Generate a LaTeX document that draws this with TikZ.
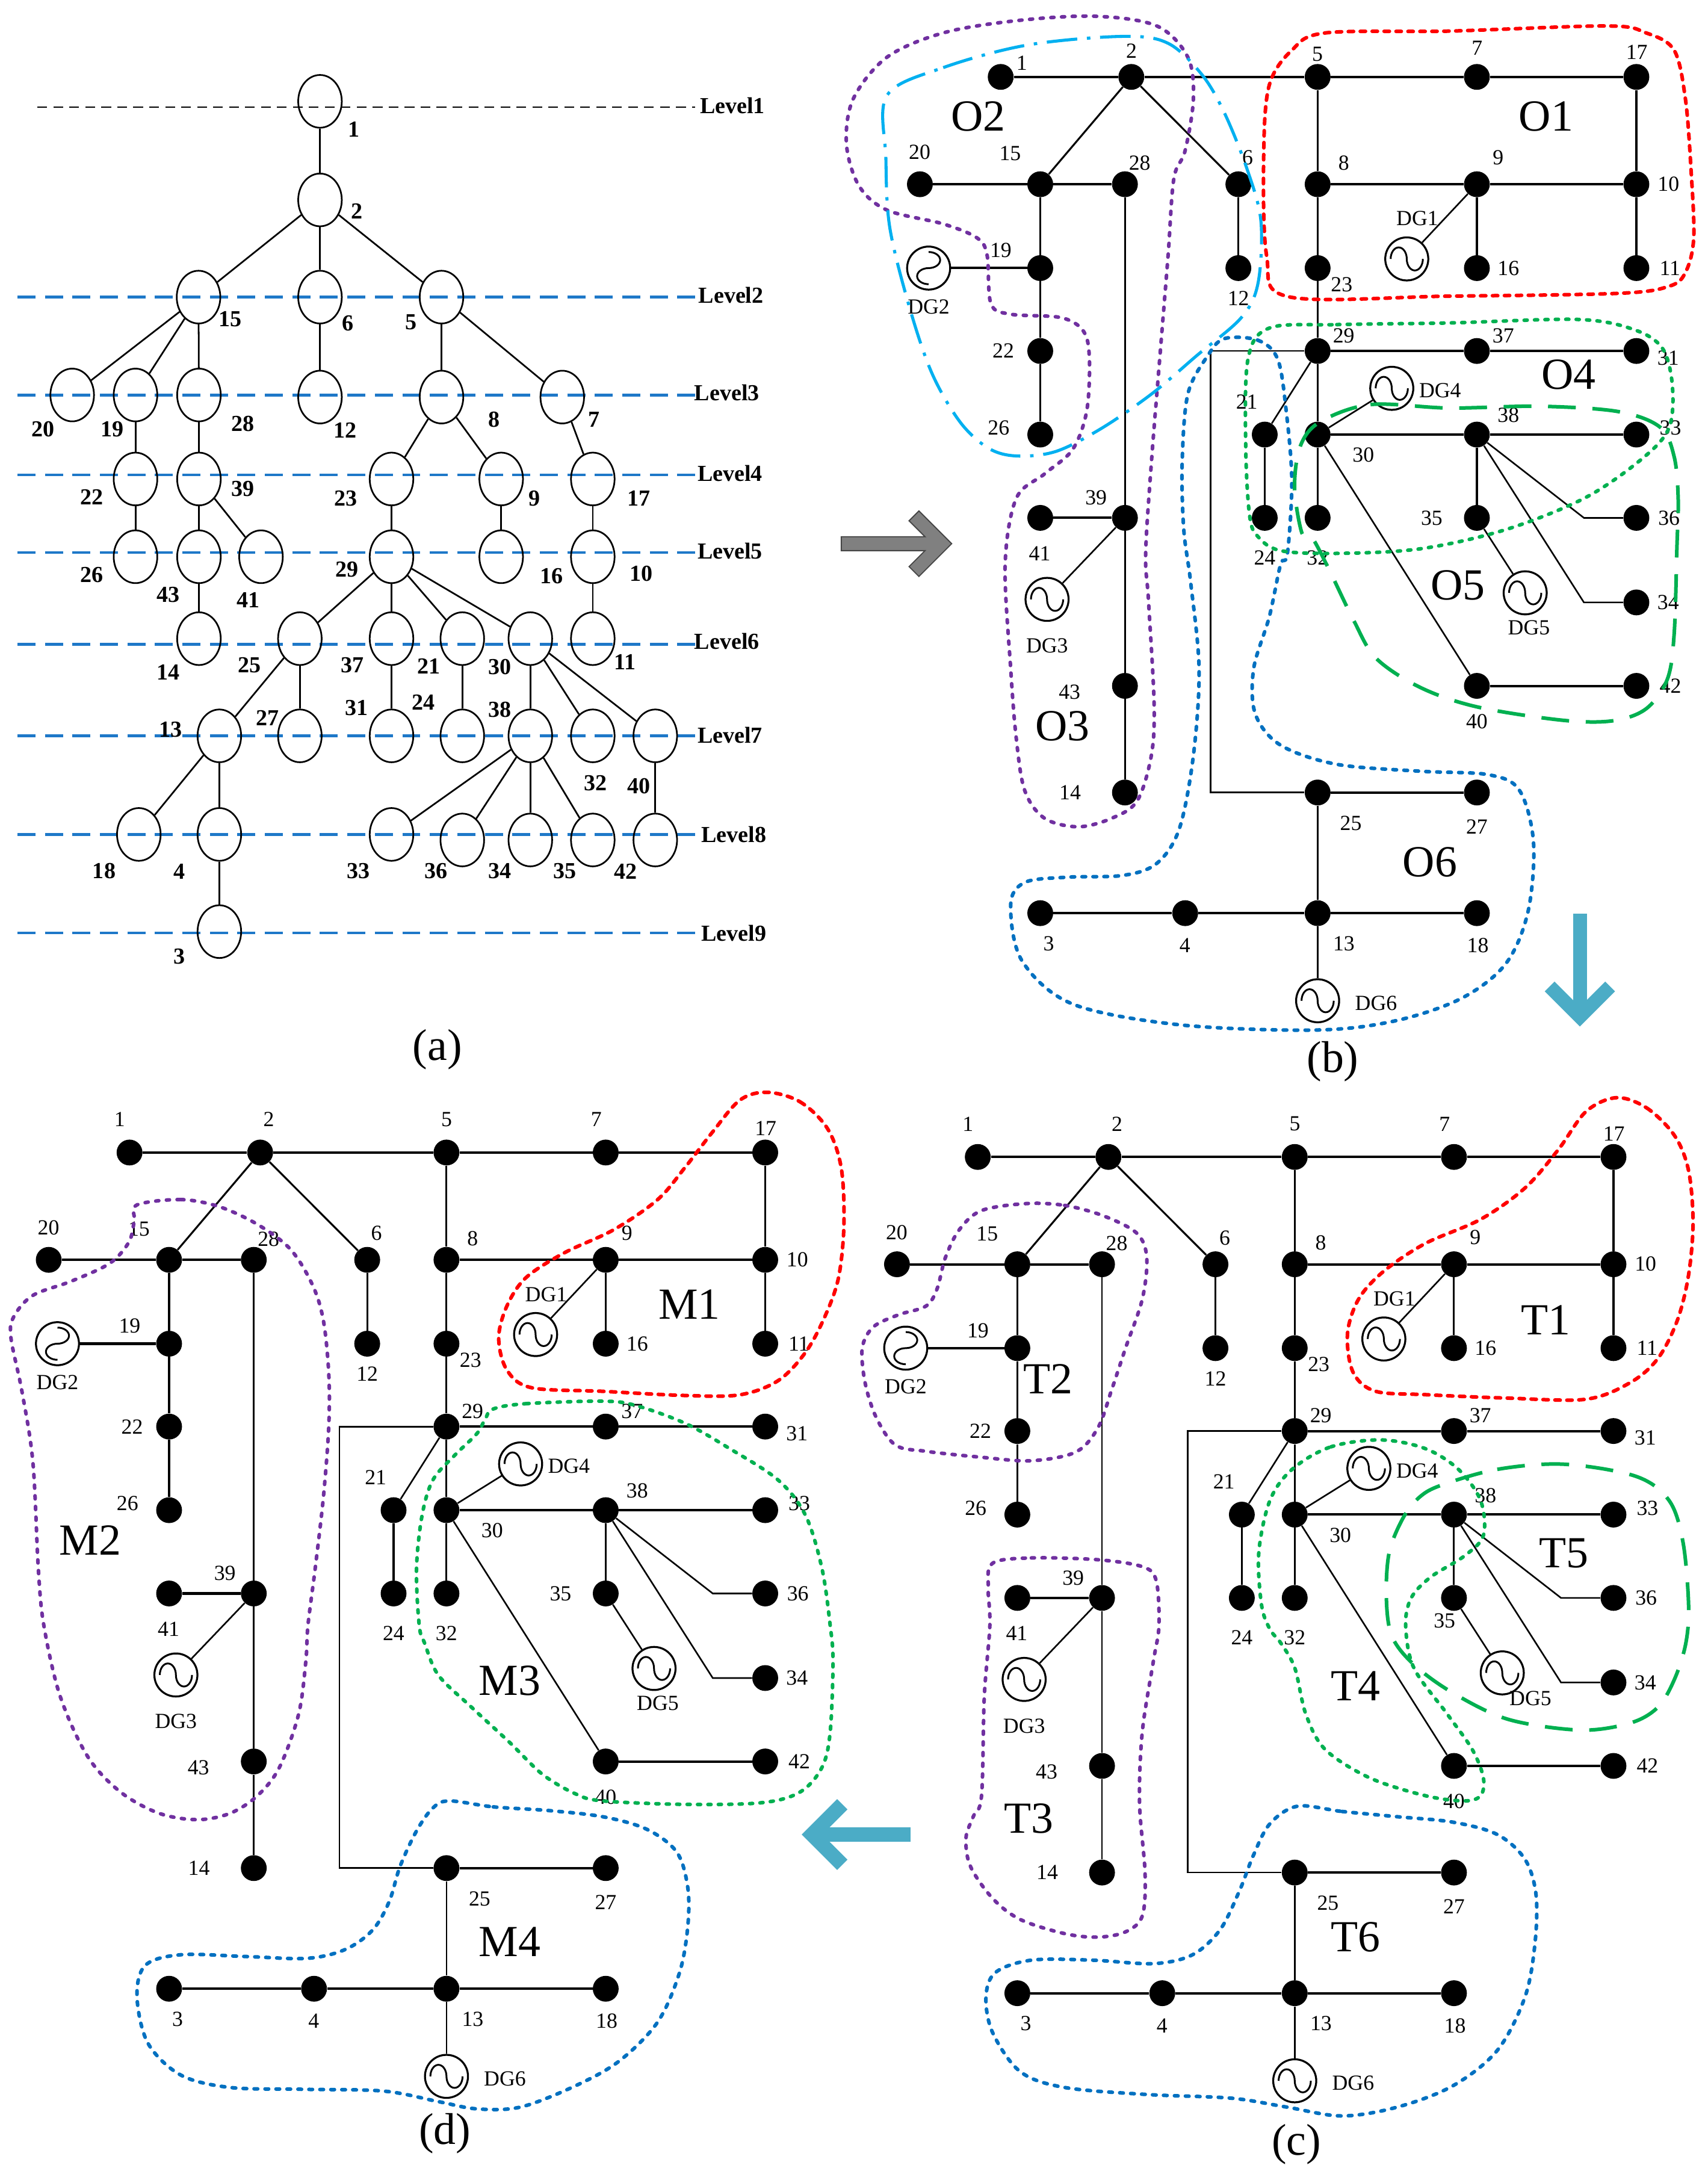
\documentclass[tikz,border=0pt]{standalone}
\usepackage{fontspec}
\setmainfont{Liberation Serif}
\usetikzlibrary{shapes.geometric}
\definecolor{cred}{RGB}{255,0,0}
\definecolor{cpur}{RGB}{112,48,160}
\definecolor{cgrn}{RGB}{0,176,80}
\definecolor{cblu}{RGB}{0,112,192}
\definecolor{ccyan}{RGB}{0,176,240}
\definecolor{lvlblue}{RGB}{30,120,200}
\definecolor{arrblue}{RGB}{75,172,198}
\definecolor{agray}{RGB}{128,128,128}
\definecolor{agrayd}{RGB}{70,70,70}
\newcommand\fnum{\fontsize{15.5}{17}\selectfont}
\newcommand\fbig{\fontsize{32}{34}\selectfont}
\newcommand\fabold{\fontsize{16.5}{18}\selectfont\bfseries}
\tikzset{
  bus/.style={circle, fill=black, draw=none, minimum size=18.6pt, inner sep=0pt},
  dgc/.style={circle, draw, line width=1.4pt, minimum size=31pt, inner sep=0pt},
  ell/.style={ellipse, draw, line width=1.2pt, minimum width=31.4pt, minimum height=38pt, inner sep=0pt},
  lab/.style={font=\fnum, inner sep=0pt},
  alab/.style={font=\fabold, inner sep=0pt},
  biglab/.style={font=\fbig, inner sep=0pt},
  thk/.style={line width=1.75pt},
  med/.style={line width=1.35pt},
  thn/.style={line width=1.15pt},
  lvl/.style={draw=lvlblue, line width=2pt, dash pattern=on 13pt off 6.8pt},
  reg/.style={line width=2.6pt, line cap=round},
  rdot/.style={reg, draw=cred, dash pattern=on 3.8pt off 4.8pt},
  pdot/.style={reg, draw=cpur, dash pattern=on 2.2pt off 5.5pt},
  gdot/.style={reg, draw=cgrn, dash pattern=on 2.2pt off 5.3pt},
  bdot/.style={reg, draw=cblu, dash pattern=on 2.6pt off 5.3pt},
  gdash/.style={line width=2.6pt, line cap=butt, draw=cgrn, dash pattern=on 20pt off 12pt},
  cdd/.style={line width=2.2pt, draw=ccyan, line cap=butt, dash pattern=on 22pt off 7pt on 2.5pt off 7pt},
}
% DG generator: [rotation]{name}{x}{y}
\newcommand\DGnode[4][0]{%
  \node[dgc] (#2) at (#3,#4) {};
  \draw[line width=1.3pt, shift={(#3,#4)}, rotate=#1]
    ({-11.6pt},{0pt}) arc[start angle=180, end angle=0, x radius=5.8pt, y radius=8.3pt]
    arc[start angle=180, end angle=360, x radius=5.8pt, y radius=8.3pt];
}
% the distribution network in local coordinates; #1 = name prefix
\newcommand\network[1]{%
  \foreach \n/\px/\py in {1/93.3/830.1, 2/187.4/830.1, 5/321.6/830.1, 7/436.3/830.1, 17/551.2/830.1,
    20/35.1/907.4, 15/121.8/907.4, 28/182.8/907.4, 6/264.5/907.4, 8/321.6/907.4, 9/436.3/907.4, 10/551.2/907.4,
    19/121.8/967.8, 12/264.5/967.8, 23/321.6/967.8, 16/436.3/967.8, 11/551.2/967.8,
    22/121.8/1027.5, 29/321.6/1027.5, 37/436.3/1027.5, 31/551.2/1027.5,
    26/121.8/1087.7, 21/283.5/1087.7, 30/321.6/1087.7, 38/436.3/1087.7, 33/551.2/1087.7,
    41/121.8/1147.7, 39/182.8/1147.7, 24/283.5/1147.7, 32/321.6/1147.7, 35/436.3/1147.7, 36/551.2/1147.7,
    34/551.2/1208.6, 43/182.8/1268.7, 40/436.3/1268.7, 42/551.2/1268.7,
    14/182.8/1345.5, 25/321.6/1345.5, 27/436.3/1345.5,
    3/121.8/1432.4, 4/226.2/1432.4, 13/321.6/1432.4, 18/436.3/1432.4}
    {\node[bus] (#1\n) at (\px,\py) {};}
  \DGnode{#1DG1}{385.8}{961.2}
  \DGnode[90]{#1DG2}{41.4}{967.8}
  \DGnode{#1DG3}{126.7}{1206.4}
  \DGnode{#1DG4}{375}{1054.4}
  \DGnode{#1DG5}{471.1}{1201.7}
  \DGnode{#1DG6}{321.6}{1495.5}
  \coordinate (#1L1) at (244.5,1027.5);
  \coordinate (#1L2) at (244.5,1345.5);
  \coordinate (#1K36) at (513.4,1147.7);
  \coordinate (#1K34) at (513.4,1208.6);
  \foreach \u/\v in {1/2,2/5,5/7,7/17,20/15,15/28,8/9,9/10,29/37,37/31,30/38,38/33,40/42,25/27,3/4,4/13,13/18,39/41,19/DG2}
    {\draw[thk] (#1\u) -- (#1\v);}
  \foreach \u/\v in {5/8,8/23,23/29,29/30,30/32,17/10,10/11,9/16,15/19,19/22,22/26,6/12,21/24,38/35,2/15,2/6}
    {\draw[med] (#1\u) -- (#1\v);}
  \foreach \u/\v in {28/39,39/43,43/14,9/DG1,39/DG3,29/21,30/DG4,30/40,35/DG5,25/13,13/DG6}
    {\draw[thn] (#1\u) -- (#1\v);}
  \draw[thn] (#129) -- (#1L1) -- (#1L2) -- (#125);
  \draw[thn] (#138) -- (#1K36) -- (#136);
  \draw[thn] (#138) -- (#1K34) -- (#134);
  \foreach \t/\px/\py in {20/34.9/884.4, 15/100.1/885.3, 28/193.4/892.3, 6/271.2/888.3, 8/340.4/892.1,
    9/451.6/888.1, 10/574.3/907.2, 19/93.4/955, 12/264.5/989.6, 23/338.9/979.6, 16/459/967.8,
    11/575.4/967.8, 22/95.2/1027.5, 29/340.4/1016.4, 37/455.3/1016.5, 31/574.1/1032.5, 21/270.6/1064.1,
    38/459/1073.8, 33/575.7/1083, 26/91.8/1083, 30/354.5/1102.5, 39/162/1133.2, 36/574.7/1147.7,
    41/121.4/1173.2, 24/283.5/1176.3, 32/321.6/1176.3, 34/574.1/1208.6, 43/142.9/1273.1, 42/575.7/1268.7,
    40/436.3/1294.2, 14/143.3/1345.5, 25/345.5/1367.5, 27/436.3/1370, 3/127.9/1454.3, 4/226/1455.8,
    13/340.5/1454.3, 18/437/1455.8, DG1/393.4/932.2, DG2/41.4/995.7, DG3/126.7/1239.9, DG4/409.8/1056,
    DG6/363.7/1497.3}
    {\node[lab] (#1t\t) at (\px,\py) {\t};}
}
\begin{document}
\begin{tikzpicture}[x=1pt,y=-1pt]
\useasboundingbox (0,0) rectangle (1230,1568);
\fill[white] (0,0) rectangle (1230,1568);

% ================= panel (a) =================
\draw[black, line width=1pt, dash pattern=on 7pt off 4.5pt] (27,77.2) -- (500.5,77.2);
\foreach \yy in {214,284.5,342,398,464,530,601,672}
  {\draw[lvl] (12.6,\yy) -- (500.5,\yy);}
\foreach \t/\px/\py in {1/504/76, 2/503/212.5, 3/500/283, 4/502.3/341, 5/502.3/397, 6/500/462, 7/502.3/529.5, 8/505/601, 9/505/672}
  {\node[alab, anchor=west] (lvl\t) at (\px,\py) {Level\t};}
\foreach \n/\px/\py in {1/230.5/73, 2/230.5/144, 15/143/214, 6/230.5/214, 5/318/214,
  20/52/284.5, 19/97.6/284.5, 28/143.3/284.5, 12/230.5/286, 8/318/286, 7/405/286,
  22/97.6/345, 39/143.3/345, 23/282/345, 9/361/345, 17/427/345,
  26/97.6/401, 43/143.3/401, 41/188/401, 29/282/401, 16/361/401, 10/427/401,
  14/143.3/460, 25/216/460, 37/282/460, 21/333/460, 30/382/460, 11/427/460,
  13/158/530, 27/216/530, 31/282/530, 24/333/530, 38/382/530, 32/427/530, 40/472/530,
  18/100/601, 4/158/601, 33/282/601, 36/333/605, 34/382/605, 35/427/605, 42/472/605, 3/158/671}
  {\node[ell] (a\n) at (\px,\py) {};}
\foreach \u/\v in {1/2,2/15,2/6,2/5,15/20,15/19,15/28,6/12,5/8,5/7,19/22,28/39,8/23,8/9,7/17,22/26,
  39/43,39/41,23/29,9/16,17/10,43/14,29/25,29/37,29/21,29/30,10/11,25/13,25/27,37/31,21/24,30/38,
  30/32,30/40,13/18,13/4,38/33,38/36,38/34,38/35,40/42,4/3}
  {\draw[line width=1.2pt] (a\u) -- (a\v);}
\foreach \t/\px/\py in {1/255/93, 2/257/152, 15/166/230, 6/250.5/233, 5/296/232, 20/31/309, 19/81/309,
  28/175/305, 12/248.5/310, 8/356/302, 7/428/302, 22/66/358, 39/175/352, 23/249/359, 9/385/359,
  17/460/359, 26/66/414, 43/121/428.5, 41/179/432, 29/250/410, 16/397.5/415, 10/462/413, 14/121/484,
  25/179.5/479, 37/254/479, 21/309/480, 30/360/480.5, 11/450/477, 31/257/510, 24/305/506, 38/360/511,
  27/192.5/517, 13/123/525.5, 32/429/564, 40/460/566, 18/75/627.5, 4/129/627.5, 33/258/627.5,
  36/314/627.5, 34/360/627.5, 35/407/627.5, 42/450.5/627.5, 3/129/689}
  {\node[alab] (at\t) at (\px,\py) {\t};}
\node[biglab] (pa) at (315,756) {(a)};

% ================= panel (b) =================
\begin{scope}[shift={(627.5,-774.7)}]
  \network{b}
  \foreach \t/\px/\py in {1/108.5/820.3, 2/187.5/811.5, 5/321.5/813.7, 7/436.5/809.1, 17/551.5/812.2,
    35/403.8/1147.7, DG5/473.8/1226.6}
    {\node[lab] (bt\t) at (\px,\py) {\t};}
\end{scope}
\node[biglab] (O1) at (1113.6,83.7) {O1};
\node[biglab] (O2) at (704.6,83.7) {O2};
\node[biglab] (O3) at (765.4,523) {O3};
\node[biglab] (O4) at (1130,270) {O4};
\node[biglab] (O5) at (1050,421.6) {O5};
\node[biglab] (O6) at (1030,621) {O6};
\node[biglab] (pb) at (960,764.5) {(b)};
% region outlines (b)
\draw[rdot] plot[smooth cycle, tension=0.55] coordinates {(928.5,213.8) (912.3,183.8) (910.3,108.7)
  (914.3,61.2) (930.5,36.2) (954.8,23.7) (1043.9,22.4) (1157.3,18.7) (1185.7,23.7) (1205.9,36.2)
  (1214,71.2) (1218,121.3) (1220,171.3) (1214,196.3) (1201.9,206.3) (1165.4,211.3) (1043.9,213.3)};
\draw[pdot] plot[smooth cycle, tension=0.55] coordinates {(609.7,103.7) (614.6,71.2) (638.9,41.2)
  (679.4,23.7) (732,14.9) (788.8,11.7) (833.3,18.7) (855.6,41.2) (859.6,71.2) (853.6,108.7)
  (845.5,128.8) (841.4,183.8) (835.3,258.9) (829.3,333.9) (825.2,399) (827.2,431.6) (831.3,506.7)
  (829.3,544.2) (819.1,576.8) (800.9,589.3) (776.6,595.5) (752.3,589.3) (738.1,569.3) (732,531.7)
  (728,481.7) (724,406.6) (732,359) (752.3,341.4) (772.5,323.9) (782.7,296.4) (784.7,258.9)
  (780.6,238.8) (764.4,228.8) (728,226.3) (713.8,218.8) (711,183.8) (703.7,171.3) (679.4,161.3)
  (638.9,151.3) (618.7,133.8)};
\draw[cdd] plot[smooth cycle, tension=0.55] coordinates {(638.9,68.7) (679.4,48.7) (740.2,32.4)
  (809,26.2) (841.4,31.2) (865.7,53.7) (881.9,81.2) (898.1,121.3) (908.2,158.8) (906.2,203.8)
  (894.1,228.8) (861.7,256.4) (829.3,283.9) (792.8,308.9) (760.4,325.2) (732,328.4) (711.8,322.7)
  (691.5,303.9) (671.3,268.9) (655.1,221.3) (640.9,163.8) (638.1,113.7)};
\draw[bdot] plot[smooth cycle, tension=0.55] coordinates {(881.9,243.9) (906.2,245.1) (920.4,258.9)
  (926.5,296.4) (930.5,346.4) (927.3,399) (922.4,406.6) (914.3,444.2) (903,481.7) (904.2,514.2)
  (922.4,536.7) (962.9,550.5) (1023.6,555.5) (1072.2,558) (1094.5,569.3) (1104.6,606.8)
  (1100.6,656.8) (1084.4,694.4) (1052,719.4) (1003.4,735.6) (946.7,741.9) (849.5,738.1)
  (772.5,723.1) (736.1,691.9) (728,651.8) (738.1,635.6) (768.5,631.8) (809,630.5) (833.3,621.8)
  (849.5,596.8) (859.6,544.2) (863.7,481.7) (857.6,419.1) (852.7,381.6) (851.5,333.9) (855.6,283.9)
  (869.8,256.4)};
\draw[gdot] plot[smooth cycle, tension=0.55] coordinates {(914.3,236.3) (962.9,233.8) (1043.9,232.6)
  (1137,230.1) (1177.5,237.6) (1197.8,251.4) (1204.7,278.9) (1201.9,308.9) (1181.6,331.4)
  (1141.1,358.9) (1084.4,381.5) (1023.6,395.2) (962.9,398.6) (922.4,396.6) (906.2,386.6)
  (900.1,371.5) (897.3,321.4) (898.9,258.9)};
\draw[gdash] plot[smooth cycle, tension=0.55] coordinates {(950.8,303.9) (987.2,291.4) (1043.9,293.9)
  (1108.7,292.6) (1165.4,296.4) (1195.8,307.7) (1205.9,328.9) (1208.8,358.9) (1207.9,394.1)
  (1205.9,456.7) (1201,489.2) (1185.7,510.5) (1161.4,519.2) (1124.9,518.7) (1064.2,509.2)
  (1023.6,495.4) (991.3,474.2) (975,446.7) (956.8,409.1) (944.7,386.6) (937.8,384) (932.5,351.4)
  (936.6,321.4)};

% ================= panel (c) =================
\begin{scope}[shift={(611,3.2)}]
  \network{c}
  \foreach \t/\px/\py in {1/86.2/806.3, 2/193.6/806.3, 5/321.7/806.3, 7/429.5/806.3, 17/551.5/813.5,
    35/429.5/1164, DG5/491.4/1220}
    {\node[lab] (ct\t) at (\px,\py) {\t};}
\end{scope}
\node[biglab] (T1) at (1113.6,950.7) {T1};
\node[biglab] (T2) at (754.9,993.3) {T2};
\node[biglab] (T3) at (740.9,1309.8) {T3};
\node[biglab] (T4) at (976.6,1214.2) {T4};
\node[biglab] (T5) at (1126.4,1118.9) {T5};
\node[biglab] (T6) at (976.6,1395.2) {T6};
\node[biglab] (pc) at (933.9,1544.3) {(c)};
\draw[rdot] plot[smooth cycle, tension=0.55] coordinates {(1164.4,790.6) (1186.3,798.1) (1206.3,818.1)
  (1216.3,843.2) (1219.5,880.7) (1216.3,918.2) (1208.3,950.7) (1194.3,978.3) (1174.3,995.8)
  (1142.4,1007.8) (1086.5,1007) (1026.5,1004.5) (990.6,1002) (974.6,988.3) (970.6,960.7)
  (978.6,935.7) (996.6,915.7) (1026.5,895.7) (1066.5,878.2) (1098.4,855.7) (1122.4,828.1)
  (1142.4,800.6)};
\draw[pdot] plot[smooth cycle, tension=0.55] coordinates {(738.9,866.9) (766.9,868.2) (794.8,875.7)
  (818.8,888.2) (826,905.7) (822.8,935.7) (810.8,970.8) (800.8,1000.8) (790.9,1028.3) (774.9,1045.8)
  (742.9,1052.1) (707,1049.6) (667,1045.3) (645,1040.8) (631.1,1020.8) (623.1,995.8) (621.1,970.8)
  (629.1,955.7) (647.1,947) (667,940.7) (675,928.2) (681,905.7) (691,885.7) (707,871.9)};
\draw[pdot] plot[smooth cycle, tension=0.55] coordinates {(715,1125.9) (742.9,1122.1) (790.9,1123.4)
  (822.8,1128.4) (832.8,1138.4) (834.8,1170.9) (830.8,1196.4) (822.8,1247.4) (820.8,1298.4)
  (824.8,1349.3) (822.8,1379.9) (810.8,1391.4) (790.9,1395.2) (766.9,1392.7) (734.9,1382.5)
  (714.9,1367.2) (699,1344.2) (695.8,1323.8) (701,1308.5) (707,1293.3) (709,1221.9) (713,1170.9)
  (711.8,1143.4)};
\draw[gdot] plot[smooth cycle, tension=0.55] coordinates {(930.7,1058.3) (958.6,1042.1) (994.6,1037.1)
  (1026.5,1043.3) (1050.5,1058.3) (1066.5,1080.8) (1068.5,1105.9) (1054.5,1120.9) (1030.5,1135.9)
  (1016.5,1150.9) (1012.5,1170.9) (1018.5,1201.5) (1042.5,1234.6) (1060.5,1260.1) (1068.5,1280.5)
  (1066.5,1293.3) (1054.5,1297.1) (1026.5,1293.3) (986.6,1280.5) (954.6,1260.1) (940.6,1234.6)
  (932.7,1201.5) (922.7,1183.6) (914.7,1173.4) (908.7,1156) (906.7,1118.4) (914.7,1080.8)};
\draw[gdash] plot[smooth cycle, tension=0.55] coordinates {(1038.5,1069.6) (1078.5,1058.3)
  (1126.4,1054.6) (1178.3,1063.3) (1202.3,1080.8) (1212.3,1110.9) (1216.3,1155.9) (1214.3,1183.6)
  (1206.3,1209.1) (1194.3,1229.5) (1174.3,1241) (1138.4,1246.1) (1086.5,1238.4) (1046.5,1219.3)
  (1018.5,1199) (1002.6,1178.5) (998.6,1150.9) (1000.6,1118.4) (1010.6,1093.4) (1022.5,1078.3)};
\draw[bdot] plot[smooth cycle, tension=0.55] coordinates {(934.7,1300.9) (966.6,1304.7) (1006.6,1308.5)
  (1046.5,1312.4) (1078.5,1321.3) (1098.4,1339.1) (1106.4,1364.6) (1105.6,1400.3) (1098.4,1438.5)
  (1078.5,1476.8) (1046.5,1502.3) (1006.6,1517.6) (966.6,1524) (926.7,1517.6) (886.7,1511.2)
  (826.8,1508.6) (766.9,1503.5) (734.9,1492.1) (715,1464) (710.2,1438.5) (717,1420.7) (742.9,1411.8)
  (786.9,1411.8) (830.8,1414.3) (858.8,1408) (878.7,1390.1) (892.7,1362.1) (902.7,1336.6)
  (914.7,1313.6)};

% ================= panel (d) =================
\begin{scope}
  \network{d}
  \foreach \t/\px/\py in {1/86.2/806.3, 2/193.6/806.3, 5/321.7/806.3, 7/429.5/806.3, 17/551.5/812.5,
    35/403.8/1147.7, DG5/473.8/1226.6}
    {\node[lab] (dt\t) at (\px,\py) {\t};}
\end{scope}
\node[biglab] (M1) at (496.6,939.4) {M1};
\node[biglab] (M2) at (65.1,1109.5) {M2};
\node[biglab] (M3) at (367.1,1210.4) {M3};
\node[biglab] (M4) at (367.1,1398.5) {M4};
\node[biglab] (pd) at (320.5,1536.7) {(d)};
\draw[rdot] plot[smooth cycle, tension=0.55] coordinates {(552.6,786.7) (576.3,793.6) (596,812.8)
  (605.9,840.9) (607.9,881.9) (604,920.2) (594.1,948.4) (580.3,973.9) (560.5,994.4) (532.9,1004.6)
  (493.4,1005.1) (434.2,1002.1) (382.9,999.5) (365.1,986.7) (359.2,963.7) (365.1,940.7)
  (378.9,920.2) (406.6,902.3) (442.1,885.7) (473.7,864) (493.4,840.9) (513.2,815.4) (532.9,792.4)};
\draw[pdot] plot[smooth cycle, tension=0.55] coordinates {(98.7,867.8) (130.3,864) (157.9,869.1)
  (185.5,881.9) (209.2,899.8) (225,925.3) (232.9,950.9) (236.8,989.3) (236.8,1027.6) (232.9,1078.8)
  (227,1129.9) (221.8,1170.8) (220.3,1196.4) (215.1,1234.6) (201.3,1272.9) (185.5,1293.3)
  (165.8,1306) (142.1,1310.6) (114.5,1306) (86.8,1290.7) (63.2,1265.2) (43.4,1221.9) (31.6,1170.9)
  (27.6,1129.9) (23.7,1053.2) (15.8,1002.1) (7.9,963.7) (9.9,948.4) (23.7,933) (51.3,922.8)
  (78.9,910) (92.8,894.7) (96.7,879.3)};
\draw[gdot] plot[smooth cycle, tension=0.55] coordinates {(355.3,1014.8) (378.9,1011) (434.2,1009.2)
  (457.9,1012.3) (493.4,1025.1) (525,1043) (560.5,1066) (580.3,1091.6) (592.1,1129.9) (598,1170.8)
  (600,1196.4) (598,1247.4) (592.1,1272.9) (576.3,1290.7) (548.7,1298.4) (493.4,1299.6)
  (434.2,1297.1) (414.5,1292) (390.8,1278) (367.1,1255) (339.5,1229.5) (315.8,1206.6)
  (305.9,1183.6) (302,1170.9) (300,1129.9) (304,1091.6) (311.8,1066) (327.6,1048.1) (343.4,1032.7)
  (349.3,1022.5)};
\draw[bdot] plot[smooth cycle, tension=0.55] coordinates {(323.7,1297.1) (355.3,1301.4) (394.7,1304)
  (434.2,1308.5) (465.8,1317.5) (487.5,1334) (495.4,1359.5) (495.4,1387.6) (489.5,1420.7)
  (473.7,1456.4) (446.1,1484.4) (414.5,1502.3) (375,1517.6) (343.4,1518.9) (315.8,1513.7)
  (276.3,1506.1) (217.1,1504.8) (165.8,1503.5) (130.3,1494.6) (106.6,1471.7) (98.7,1438.5)
  (104.6,1415.6) (130.3,1407.9) (177.6,1409.2) (221.1,1410.5) (248.7,1404.1) (268.4,1390.1)
  (280.3,1369.7) (288.2,1344.2) (300,1318.8) (311.8,1302.2)};

% ================= arrows =================
\filldraw[fill=agray, draw=agrayd, line width=0.8pt] (606,386.6) -- (666.3,386.6) -- (654.8,375.1)
  -- (661.9,368.0) -- (685.5,391.6) -- (661.9,415.2) -- (654.8,408.1) -- (666.3,396.6) -- (606,396.6) -- cycle;
\coordinate (dA1) at (1138,658);
\coordinate (dA2) at (1138,732.3);
\draw[arrblue, line width=10pt] (dA1) -- (dA2);
\draw[arrblue, line width=10pt, line join=miter] (1116.2,710.5) -- (dA2) -- (1159.8,710.5);
\coordinate (lA1) at (655.8,1321.3);
\coordinate (lA2) at (584.9,1321.3);
\draw[arrblue, line width=10.5pt] (lA1) -- (lA2);
\draw[arrblue, line width=10.5pt, line join=miter] (606.7,1299.5) -- (lA2) -- (606.7,1343.1);
\end{tikzpicture}
\end{document}
